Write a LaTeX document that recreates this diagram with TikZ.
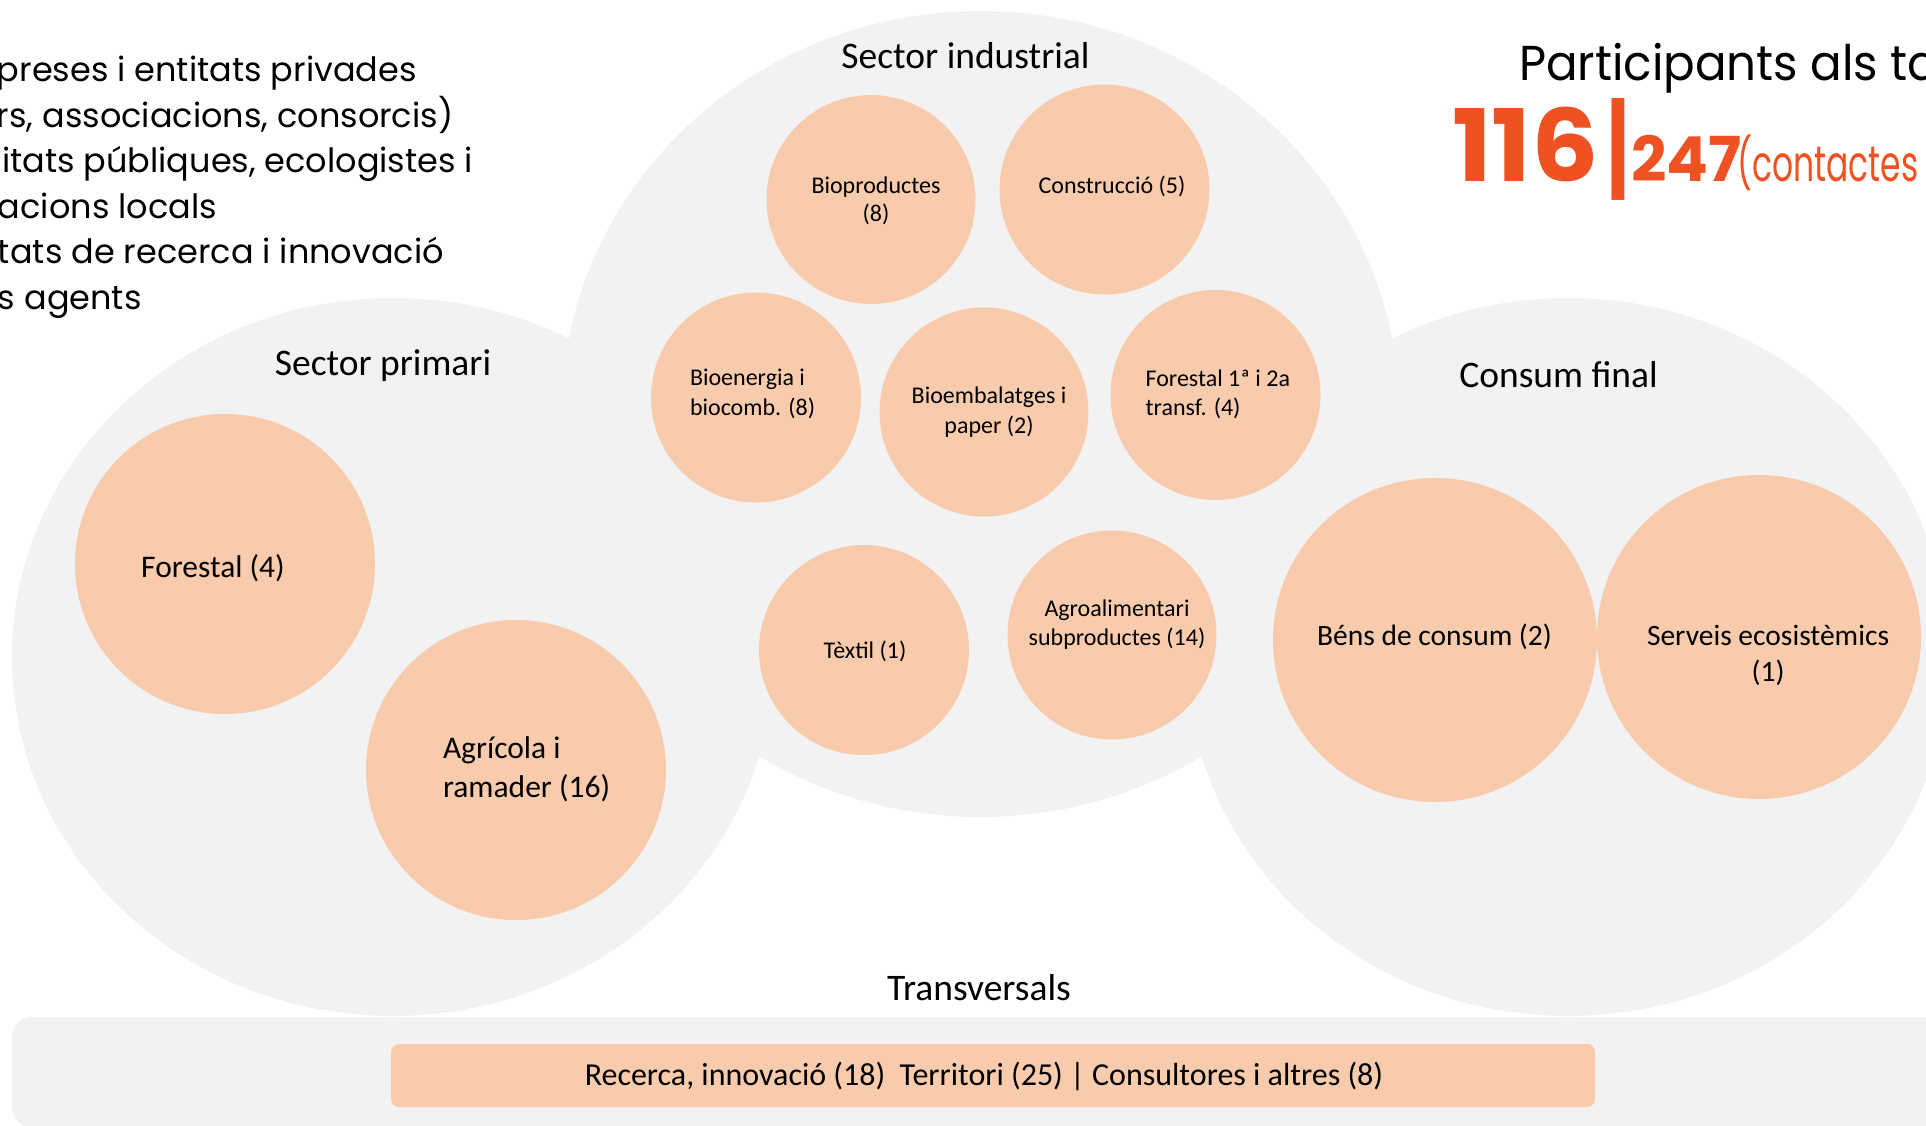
\documentclass[tikz,border=0pt]{standalone}
\usepackage{fontspec}
\setmainfont{Carlito}
\newfontfamily\geo{Poppins}
\newfontfamily\geotitle[FakeStretch=0.955]{Poppins}
\newfontfamily\geonum[FakeStretch=1.06]{Poppins}
\newfontfamily\geonarrow[FakeStretch=0.66]{Poppins}
\definecolor{bggray}{HTML}{F2F2F2}
\definecolor{peach}{HTML}{F8CBAD}
\definecolor{accent}{HTML}{EE5223}
\begin{document}
\begin{tikzpicture}[x=1pt,y=-1pt,
  blob/.style={fill=bggray,draw=none},
  bubble/.style={circle,fill=peach,draw=none,inner sep=0pt,minimum size=#1},
  txt/.style={inner sep=0pt,outer sep=0pt,anchor=base},
  lbl/.style={txt,font=\fontsize{37.5}{44}\selectfont},
  bigt/.style={txt,font=\fontsize{31.5}{37}\selectfont},
  midt/.style={txt,font=\fontsize{29.5}{35}\selectfont},
  smallt/.style={txt,font=\fontsize{24}{29}\selectfont},
  legend/.style={txt,anchor=base west,font=\geo\fontsize{33.5}{40}\selectfont},
]
\useasboundingbox (0,0) rectangle (1926,1125);
\begin{scope}
\clip (0,0) rectangle (1926,1125);
% background blobs
\fill[blob] (393,657) ellipse [x radius=381pt, y radius=359pt];
\fill[blob] (980.5,414) ellipse [x radius=419pt, y radius=403pt];
\fill[blob] (1568,657) ellipse [x radius=381pt, y radius=359pt];
\fill[blob, rounded corners=20pt] (12,1017) rectangle (1990,1127);
\node[fill=peach, rounded corners=8pt, inner sep=0pt, minimum width=1204pt, minimum height=63pt] (bar) at (993,1075.5) {};

% bubbles
\node[bubble=300pt] (forestal) at (225,564) {};
\node[bubble=300pt] (agricola) at (516,770) {};
\node[bubble=209pt] (bioprod) at (871,199.5) {};
\node[bubble=210pt] (constr) at (1104.5,189.5) {};
\node[bubble=210pt] (bioener) at (756,397.5) {};
\node[bubble=209pt] (bioemb) at (984,412) {};
\node[bubble=210pt] (forest12) at (1215.5,395) {};
\node[bubble=210pt] (textil) at (864,650) {};
\node[bubble=209pt] (agroal) at (1112,635) {};
\node[bubble=324pt] (bens) at (1435,640) {};
\node[bubble=324pt] (serveis) at (1759,637) {};

% group labels
\node[lbl] (lind) at (965.5,68) {Sector industrial};
\node[lbl] (lprim) at (383,375) {Sector primari};
\node[lbl] (lcons) at (1558.5,387) {Consum final};
\node[lbl] (ltrans) at (979,1000) {Transversals};

% bubble texts
\node[bigt] (tfor) at (213,577.5) {Forestal (4)};
\node[bigt,anchor=base west] (tagr1) at (443,758) {Agrícola i};
\node[bigt,anchor=base west] (tagr2) at (443,797) {ramader (16)};
\node[smallt] (tbp1) at (876,193) {Bioproductes};
\node[smallt] (tbp2) at (876,221) {(8)};
\node[smallt] (tcon) at (1112,193) {Construcció (5)};
\node[smallt,anchor=base west] (tbe1) at (690,385.6) {Bioenergia i};
\node[smallt,anchor=base west] (tbe2) at (690,415) {biocomb. (8)};
\node[smallt] (tbm1) at (989,403) {Bioembalatges i};
\node[smallt] (tbm2) at (989,433) {paper (2)};
\node[smallt,anchor=base west] (tf1) at (1145.6,386.6) {Forestal 1ª i 2a};
\node[smallt,anchor=base west] (tf2) at (1145.6,415) {transf. (4)};
\node[smallt] (ttx) at (865,658) {Tèxtil (1)};
\node[smallt] (tag1) at (1117,616.5) {Agroalimentari};
\node[smallt] (tag2) at (1117,645) {subproductes (14)};
\node[midt] (tbens) at (1434.5,645) {Béns de consum (2)};
\node[midt] (tsv1) at (1768,645) {Serveis ecosistèmics};
\node[midt] (tsv2) at (1768,681) {(1)};
\node[txt,font=\fontsize{32}{38}\selectfont] (tbar) at (984,1085) {Recerca, innovació (18)\ \ Territori (25) | Consultores i altres (8)};

% legend text (cut at left edge)
\node[legend] (lg1) at (-3,81.7) {preses i entitats privades};
\node[legend] (lg2) at (-3,127.3) {rs, associacions, consorcis)};
\node[legend] (lg3) at (2,172.8) {itats públiques, ecologistes i};
\node[legend] (lg4) at (-2,218.3) {acions locals};
\node[legend] (lg5) at (-2,263.8) {tats de recerca i innovació};
\node[legend] (lg6) at (-2,309.3) {s agents};

% title
\node[txt,anchor=base west,font=\geotitle\fontsize{49}{58}\selectfont] (title) at (1519,80.5) {Participants als ta};
\node[txt,anchor=base west,text=accent,font=\geonum\bfseries\fontsize{100}{110}\selectfont] (n116) at (1452,181.7) {116};
\node[txt,anchor=base west,text=accent,font=\geo\bfseries\fontsize{100}{110}\selectfont] (nbar) at (1607,181.7) {\raisebox{-5pt}{\scalebox{0.75}[1.08]{|}}};
\node[txt,anchor=base west,text=accent,font=\geo\bfseries\fontsize{62}{70}\selectfont] (n247) at (1631,181.7) {247};
\node[txt,anchor=base west,text=accent,font=\geonarrow\fontsize{50}{60}\selectfont] (ncont) at (1737,181.7) {(contactes p};
\end{scope}
\end{tikzpicture}
\end{document}
